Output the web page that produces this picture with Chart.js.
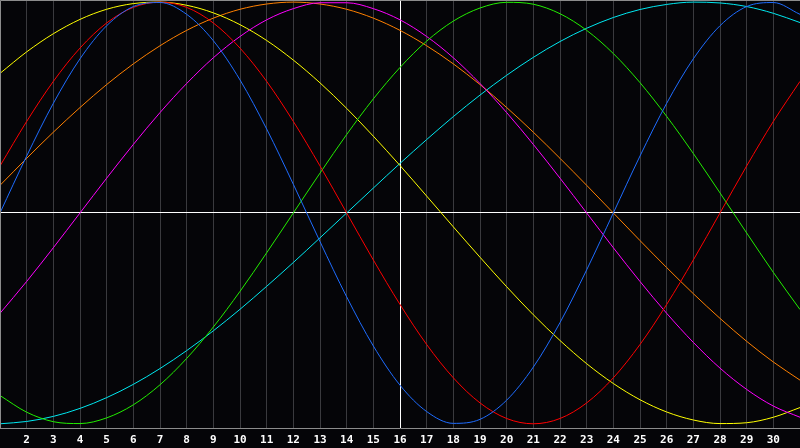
<!DOCTYPE html>
<html>
<head>
<meta charset="utf-8">
<title>Biorhythm</title>
<script src="https://cdn.jsdelivr.net/npm/chart.js@4/dist/chart.umd.min.js"></script>
<style>
  html, body { margin: 0; padding: 0; background: #050508; }
  #wrap { width: 800px; height: 448px; }
</style>
</head>
<body>
<div id="wrap"><canvas id="bioChart"></canvas></div>
<script>
// days of the month (x axis)
const days = [1,2,3,4,5,6,7,8,9,10,11,12,13,14,15,16,17,18,19,20,21,22,23,24,25,26,27,28,29,30,31];

// cycle values, -1 .. 1
const physical = [0, 0.270, 0.520, 0.731, 0.888, 0.979, 0.998, 0.942, 0.817, 0.631, 0.398, 0.136, -0.136, -0.398, -0.631, -0.817,
  -0.942, -0.998, -0.979, -0.888, -0.731, -0.520, -0.270, 0, 0.270, 0.520, 0.731, 0.888, 0.979, 0.998, 0.942];
const emotional = [0.223, 0.434, 0.624, 0.782, 0.901, 0.975, 1, 0.975, 0.901, 0.782, 0.624, 0.434, 0.223, 0, -0.223, -0.434,
  -0.624, -0.782, -0.901, -0.975, -1, -0.975, -0.901, -0.782, -0.624, -0.434, -0.223, 0, 0.223, 0.434, 0.624];
const intellectual = [-0.866, -0.945, -0.990, -0.999, -0.972, -0.910, -0.815, -0.690, -0.541, -0.372, -0.189, 0, 0.189, 0.372, 0.541, 0.690,
  0.815, 0.910, 0.972, 0.999, 0.990, 0.945, 0.866, 0.756, 0.618, 0.458, 0.282, 0.095, -0.095, -0.282, -0.458];
const intuitive = [-0.476, -0.325, -0.165, 0, 0.165, 0.325, 0.476, 0.614, 0.736, 0.837, 0.916, 0.969, 0.997, 0.997, 0.969, 0.916,
  0.837, 0.736, 0.614, 0.476, 0.325, 0.165, 0, -0.165, -0.325, -0.476, -0.614, -0.736, -0.837, -0.916, -0.969];
const aesthetic = [0.662, 0.764, 0.850, 0.918, 0.966, 0.993, 1.000, 0.985, 0.949, 0.893, 0.818, 0.725, 0.617, 0.496, 0.364, 0.225,
  0.080, -0.066, -0.210, -0.350, -0.483, -0.605, -0.715, -0.809, -0.886, -0.944, -0.982, -0.999, -0.995, -0.969, -0.923];
const awareness = [0.131, 0.259, 0.383, 0.5, 0.609, 0.707, 0.793, 0.866, 0.924, 0.966, 0.991, 1, 0.991, 0.966, 0.924, 0.866,
  0.793, 0.707, 0.609, 0.5, 0.383, 0.259, 0.131, 0, -0.131, -0.259, -0.383, -0.5, -0.609, -0.707, -0.793];
const spiritual = [-1.000, -0.989, -0.965, -0.927, -0.876, -0.813, -0.738, -0.653, -0.559, -0.457, -0.348, -0.235, -0.118, 0, 0.118, 0.235,
  0.348, 0.457, 0.559, 0.653, 0.738, 0.813, 0.876, 0.927, 0.965, 0.989, 1.000, 0.996, 0.979, 0.947, 0.903];

const cycleNames = ['Physical', 'Emotional', 'Intellectual', 'Intuitive', 'Aesthetic', 'Awareness', 'Spiritual'];
const cycleColors = ['#1e6cff', '#ff0000', '#22ee00', '#ff00ff', '#ffff00', '#ff8000', '#00e8f0'];
const cycleValues = [physical, emotional, intellectual, intuitive, aesthetic, awareness, spiritual];

const TODAY_INDEX = 15;

// plain frame round the plot
const framePlugin = {
  id: 'frame',
  beforeDraw(chart){
    const c = chart.ctx;
    c.save();
    c.fillStyle = '#050508';
    c.fillRect(0, 0, chart.width, chart.height);
    c.restore();
  },
  afterDatasetsDraw(chart){
    const a = chart.chartArea;
    const c = chart.ctx;
    c.save();
    c.strokeStyle = '#8c8c8c';
    c.lineWidth = 1;
    c.beginPath();
    c.moveTo(a.left + 0.5, a.bottom);
    c.lineTo(a.left + 0.5, a.top + 0.5);
    c.lineTo(a.right, a.top + 0.5);
    c.stroke();
    c.restore();
  }
};

const ctx = document.getElementById('bioChart');
new Chart(ctx, {
  type: 'line',
  data: {
    labels: days,
    datasets: cycleValues.map((vals, i) => ({
      label: cycleNames[i],
      data: vals,
      borderColor: cycleColors[i],
      borderWidth: 1,
      pointRadius: 0,
      pointHitRadius: 0,
      fill: false,
      cubicInterpolationMode: 'monotone'
    }))
  },
  options: {
    responsive: true,
    maintainAspectRatio: false,
    animation: false,
    layout: { padding: 0, autoPadding: false },
    plugins: {
      legend: { display: false },
      tooltip: { enabled: false }
    },
    scales: {
      x: {
        type: 'category',
        offset: false,
        afterFit(scale){ scale.height = 20; scale.paddingLeft = 0; scale.paddingRight = 0; },
        grid: {
          drawTicks: false,
          lineWidth: 1,
          color: (c) => c.index === TODAY_INDEX ? '#ffffff' : '#3a3a3e'
        },
        border: { display: true, color: '#8c8c8c', width: 1 },
        ticks: {
          autoSkip: false,
          maxRotation: 0,
          padding: 6,
          color: '#ffffff',
          font: { family: 'DejaVu Sans Mono', size: 11, weight: 'bold' },
          callback: function(value, index){
            if (index === 0 || index === days.length - 1) return '';
            return this.getLabelForValue(value);
          }
        }
      },
      y: {
        min: -1.02,
        max: 1.01,
        afterFit(scale){ scale.width = 0; },
        afterBuildTicks(scale){ scale.ticks = [{ value: 0 }]; },
        grid: {
          drawTicks: false,
          color: '#ffffff',
          lineWidth: 1
        },
        border: { display: false },
        ticks: { display: false }
      }
    }
  },
  plugins: [framePlugin]
});
</script>
</body>
</html>
